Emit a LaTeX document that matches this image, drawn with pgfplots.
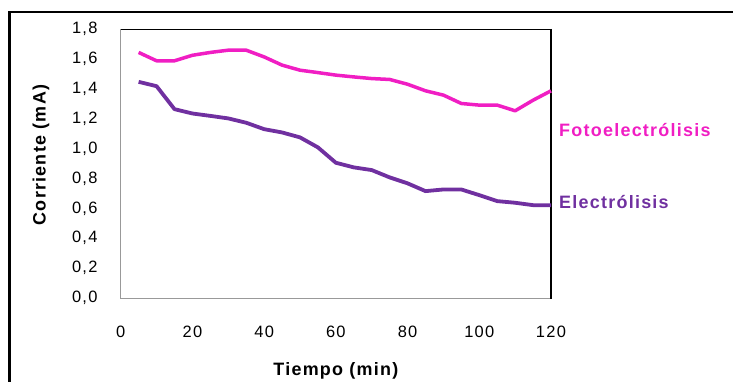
\documentclass[border=0pt]{standalone}
\usepackage{fontspec}
\setmainfont{Liberation Sans}[LetterSpace=7]
\newfontfamily\tickfont{Liberation Sans}[LetterSpace=8]
\usepackage{pgfplots}
\pgfplotsset{compat=1.18}

\definecolor{foto}{RGB}{240,30,195}
\definecolor{electro}{RGB}{112,48,160}

\begin{document}
\begin{tikzpicture}[x=1bp,y=1bp]
\useasboundingbox (0,0) rectangle (733,381);
% outer chart frame (left and top edges)
\draw[line width=2.5bp] (9.5,-2) -- (9.5,369) -- (736,369);
\begin{axis}[
  at={(120.7bp,83bp)}, anchor=south west,
  scale only axis, width=430.3bp, height=268.7bp,
  xmin=0, xmax=120, ymin=0, ymax=1.8,
  xtick={0,20,...,120},
  ytick={0,0.2,...,1.8},
  major tick length=0pt,
  axis line style={draw=none},
  /pgf/number format/assume math mode=true,
  yticklabel={\pgfmathprintnumber[use comma, fixed, fixed zerofill, precision=1]{\tick}},
  tick label style={font=\tickfont\fontsize{16.5}{18}\selectfont, inner sep=0pt},
  yticklabel style={anchor=east, xshift=-23bp},
  xticklabel style={anchor=north, yshift=-28bp},
  xlabel={Tiempo (min)},
  ylabel={Corriente (mA)},
  label style={font=\bfseries\fontsize{18}{20}\selectfont},
  xlabel style={at={(axis description cs:0.5,-0.272)}, anchor=center},
  ylabel style={at={(axis description cs:-0.185,0.532)}, anchor=center},
  clip=false,
]
\draw[gray!80, line width=0.8bp] (rel axis cs:0,1) -- (rel axis cs:0,0) -- (rel axis cs:1,0);
\draw[black, line width=0.8bp] (rel axis cs:0,1) -- (rel axis cs:1,1);
\draw[black, line width=1.8bp] (rel axis cs:1,1.002) -- (rel axis cs:1,-0.002);

% Fotoelectrólisis
\addplot[foto, line width=3.5bp, line join=round] coordinates {
 (5,1.645) (10,1.589) (15,1.589) (20,1.626) (25,1.645) (30,1.660) (35,1.660)
 (40,1.615) (45,1.560) (50,1.526) (55,1.510) (60,1.493) (65,1.481) (70,1.470)
 (75,1.464) (80,1.432) (85,1.388) (90,1.359) (95,1.303) (100,1.292) (105,1.292)
 (110,1.254) (115,1.325) (120,1.388)
};
% Electrólisis
\addplot[electro, line width=3.8bp, line join=round] coordinates {
 (5,1.448) (10,1.419) (15,1.265) (20,1.236) (25,1.220) (30,1.203) (35,1.174)
 (40,1.131) (45,1.109) (50,1.076) (55,1.009) (60,0.906) (65,0.875) (70,0.857)
 (75,0.808) (80,0.768) (85,0.716) (90,0.727) (95,0.727) (100,0.689) (105,0.649)
 (110,0.638) (115,0.622) (120,0.622)
};

\node[anchor=west, inner sep=0pt, text=foto, font=\bfseries\fontsize{18}{20}\selectfont]
  at (axis description cs:1.0186,0.625) {Fotoelectrólisis};
\node[anchor=west, inner sep=0pt, text=electro, font=\bfseries\fontsize{18}{20}\selectfont]
  at (axis description cs:1.0186,0.358) {Electrólisis};
\end{axis}
\end{tikzpicture}
\end{document}
